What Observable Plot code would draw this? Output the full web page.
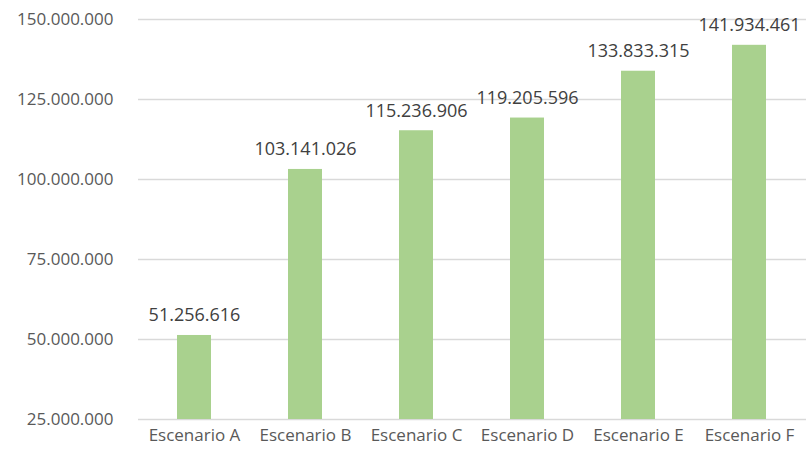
<!DOCTYPE html>
<html>
<head>
<meta charset="utf-8">
<script src="https://cdn.jsdelivr.net/npm/d3@7"></script>
<script src="https://cdn.jsdelivr.net/npm/@observablehq/plot@0.6"></script>
<style>
  html, body { margin: 0; padding: 0; background: #fff; }
  #chart { width: 806px; height: 454px; }
</style>
</head>
<body>
<div id="chart"></div>
<script>
const categories = ["Escenario A", "Escenario B", "Escenario C", "Escenario D", "Escenario E", "Escenario F"];
const values = [51256616, 103141026, 115236906, 119205596, 133833315, 141934461];
const yTicks = [25000000, 50000000, 75000000, 100000000, 125000000, 150000000];

const data = categories.map((c, i) => ({ cat: c, value: values[i] }));
const fmt = d3.formatLocale({ decimal: ",", thousands: ".", grouping: [3], currency: ["", ""] }).format(",");

const chart = Plot.plot({
  width: 806,
  height: 454,
  marginTop: 19,
  marginBottom: 35,
  marginLeft: 138,
  marginRight: 0,
  style: { fontFamily: "'Open Sans', sans-serif", background: "#fff" },
  x: { domain: categories, paddingInner: 0.69, paddingOuter: 0.345, label: null },
  y: { domain: [25000000, 150000000], label: null },
  marks: [
    Plot.ruleY(yTicks, { stroke: "#d9d9d9", strokeWidth: 1.5 }),
    Plot.barY(data, { x: "cat", y1: 25000000, y2: "value", fill: "#a9d18e" }),
    Plot.text(data, { x: "cat", y: "value", text: d => fmt(d.value), dy: -20, fontSize: 18, fill: "#404040" }),
    Plot.axisY(yTicks, { tickSize: 0, tickPadding: 25, tickFormat: fmt, fontSize: 17, fill: "#595959", label: null }),
    Plot.axisX({ tickSize: 0, tickPadding: 9, fontSize: 17, fill: "#595959", label: null })
  ]
});
document.getElementById("chart").appendChild(chart);
</script>
</body>
</html>
